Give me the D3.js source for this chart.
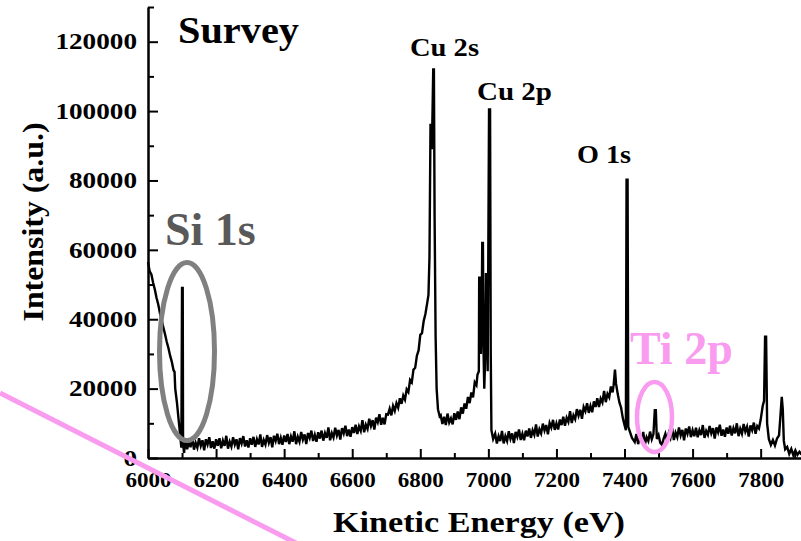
<!DOCTYPE html>
<html>
  <head>
    <meta charset="utf-8">
    <title>Survey</title>
    <script src="https://d3js.org/d3.v7.min.js"></script>
    <style>
      body { margin: 0; background: #fff; }
      svg { display: block; }
      svg text { font-family: "Liberation Serif", "Times New Roman", serif; font-weight: bold; }
      .axis path, .axis line { stroke: #000; stroke-width: 2; }
      .axis text { fill: #000; }
    </style>
  </head>
  <body>
    <svg width="801" height="541"></svg>

    <script>
      // spectrum, [kinetic energy (eV), intensity (a.u.)]
      const siRegion = [[6000,56500],[6005,53800],[6010,52900],[6015,50500],[6020,48600],[6025,46200],[6030,44300],
        [6035,41800],[6040,39800],[6045,37700],[6050,35700],[6055,33500],[6060,31700],[6065,29500],[6070,27700],
        [6075,25300],[6078,24800],[6080,20000],[6085,16000],[6090,11000],[6095,6000],[6098,3000],[6100,49000],
        [6102,49000],[6103,4000],[6106,1500]];
      const lowBaseline = [[6110,5400],[6115,2500],[6120,4600],[6125,3100],[6130,6100],[6135,2400],[6140,4400],
        [6145,3000],[6150,5700],[6155,3500],[6160,5100],[6165,2200],[6170,5400],[6175,3900],[6180,6000],[6185,2900],
        [6190,4800],[6195,2700],[6200,5400],[6205,3500],[6210,5700],[6215,2800],[6220,5000],[6225,3500],[6230,6400],
        [6235,2700],[6240,4700],[6245,3300],[6250,6000],[6255,3900],[6260,5400],[6265,2500],[6270,5700],[6275,4200],
        [6280,6300],[6285,3300],[6290,5100],[6295,3000],[6300,5700],[6305,3800],[6310,6100],[6315,3200],[6320,5400],
        [6325,3900],[6330,6800],[6335,3200],[6340,5200],[6345,3900],[6350,6600],[6355,4400],[6360,6000],[6365,3100],
        [6370,6400],[6375,4900],[6380,7000],[6385,4000],[6390,5800],[6395,3800],[6400,6500],[6405,4600],[6410,6900],
        [6415,4000],[6420,6200],[6425,4700],[6430,7700],[6435,4000],[6440,6100],[6445,4700],[6450,7500],[6455,5300],
        [6460,6800],[6465,4000],[6470,7200],[6475,5800],[6480,7900],[6485,4900],[6490,6700],[6495,4700],[6500,7400],
        [6505,5600],[6510,7900],[6515,5000],[6520,7200],[6525,5800],[6530,8800],[6535,5100],[6540,7200],[6545,5900],
        [6550,8700],[6555,6500],[6560,8100],[6565,5300],[6570,8600],[6575,7100],[6580,9300],[6585,6300],[6590,8200],
        [6595,6100],[6600,8900],[6605,7200],[6610,9600],[6615,6900],[6620,9100],[6625,7800],[6630,10900],[6635,7400],
        [6640,9600],[6645,8400],[6650,11300],[6655,9200],[6660,10900],[6665,8200],[6670,11600],[6675,10300],
        [6680,12600],[6685,9600],[6690,11600],[6695,9700],[6700,12600],[6705,12500],[6710,14200],[6715,12300],
        [6720,15000],[6725,13600],[6730,15800],[6735,14500],[6740,17200],[6745,15600],[6750,18000],[6755,16800],
        [6760,19800],[6765,19000],[6770,22500],[6775,21800],[6780,25500],[6785,26000],[6790,29500],[6795,31000],
        [6800,35500],[6805,36000],[6810,39500],[6815,41500],[6820,44500]];
      const cu2sRegion = [[6824,47000],[6827,58000],[6830,96000],[6832,96000],[6834,89000],[6836,100000],
        [6838,112000],[6840,112000],[6842,70000],[6845,35000],[6848,20000],[6852,14000],[6857,12000],[6860,12300],
        [6865,9800],[6870,11900],[6875,9500],[6880,12800],[6885,10200],[6890,11400],[6895,9700],[6900,12900],
        [6905,11000],[6910,13400],[6915,11200],[6920,14600],[6925,12800],[6930,15700],[6935,14200],[6940,17600],
        [6945,15800],[6950,18900],[6955,17500],[6960,21800],[6965,21000],[6968,24000]];
      const cu2pRegion = [[6972,25000],[6973,52000],[6976,52000],[6978,30000],[6980,36000],[6982,62000],
        [6984,62000],[6986,30000],[6988,20000],[6991,30000],[6993,53000],[6996,53000],[6998,25000],[7002,100500],
        [7005,100500],[7007,30000],[7009,8000],[7014,5500]];
      const midBaseline = [[7020,7000],[7025,4200],[7030,6300],[7035,4900],[7040,7800],[7045,4200],[7050,6300],
        [7055,4900],[7060,7700],[7065,5500],[7070,7100],[7075,4300],[7080,7500],[7085,6100],[7090,8200],[7095,5200],
        [7100,7000],[7105,5100],[7110,7900],[7115,6200],[7120,8500],[7125,5800],[7130,8000],[7135,6700],[7140,9700],
        [7145,6200],[7150,8300],[7155,7100],[7160,9900],[7165,7900],[7170,9500],[7175,6800],[7180,10100],[7185,8800],
        [7190,11000],[7195,8100],[7200,10000],[7205,8200],[7210,11100],[7215,9500],[7220,11900],[7225,9300],
        [7230,11600],[7235,10400],[7240,13500],[7245,10100],[7250,12300],[7255,11200],[7260,14100],[7265,12200],
        [7270,13900],[7275,11300],[7280,14700],[7285,13500],[7290,15800],[7295,13000],[7300,15000],[7305,13200],
        [7310,16300],[7315,14700],[7320,17200],[7325,14700],[7330,17100],[7335,16000],[7340,19300],[7345,16100],
        [7350,18500],[7355,17500],[7360,20600],[7365,18900],[7368,21000],[7372,25500],[7375,21500],[7380,18500],
        [7385,16000],[7390,14500],[7395,11500],[7400,9500]];
      const o1sRegion = [[7404,8000],[7406,80200],[7409,80200],[7411,9000],[7416,7500],[7422,5800],[7430,4600]];
      const highBaseline = [[7435,6900],[7440,4000],[7445,6100],[7450,4600],[7455,7500],[7460,3900],[7465,6000],
        [7470,4900],[7475,7600],[7480,5400],[7485,6900],[7489,13800],[7492,13800],[7495,5500],[7500,6600],
        [7505,4400],[7510,3800],[7515,5600],[7520,7000],[7525,5000],[7530,7200],[7535,5800],[7540,8600],[7545,5200],
        [7550,7300],[7555,6000],[7560,8800],[7565,6500],[7570,8100],[7575,5100],[7580,8500],[7585,7000],[7590,9100],
        [7595,6000],[7600,8000],[7605,6300],[7610,8700],[7615,6000],[7620,8000],[7625,6600],[7630,9500],[7635,5800],
        [7640,7800],[7645,6700],[7650,9200],[7655,7100],[7660,8600],[7665,5600],[7670,8800],[7675,7400],[7680,9600],
        [7685,6400],[7690,8200],[7695,6100],[7700,8800],[7705,7000],[7710,9300],[7715,6500],[7720,8600],[7725,7100],
        [7730,10000],[7735,6300],[7740,8400],[7745,7000],[7750,9800],[7755,7600],[7760,9000],[7765,6200],[7770,9400],
        [7775,8000],[7780,10200],[7785,7000],[7790,9200],[7795,8500],[7800,11000],[7806,15000],[7810,16500],
        [7813,35000],[7816,35000],[7819,10000],[7824,5500],[7830,3800],[7836,5200],[7842,3600],[7848,5600],
        [7854,6500],[7858,12000],[7862,17600],[7865,14000],[7868,5000],[7872,2500],[7878,3200],[7884,1200],
        [7890,2600],[7896,800],[7902,2200],[7908,900],[7914,1800],[7920,1000]];

      const xMajorTicks = [6000, 6200, 6400, 6600, 6800, 7000, 7200, 7400, 7600, 7800];
      const xMinorTicks = [6100, 6300, 6500, 6700, 6900, 7100, 7300, 7500, 7700, 7900];
      const yMajorTicks = [0, 20000, 40000, 60000, 80000, 100000, 120000];
      const yMinorTicks = [10000, 30000, 50000, 70000, 90000, 110000, 130000];

      const peakLabels = [
        { text: "Cu 2s", x: 410, y: 56, len: 69 },
        { text: "Cu 2p", x: 477, y: 100, len: 75 },
        { text: "O 1s", x: 577, y: 163, len: 54 }
      ];

      const spectrum = [].concat(siRegion, lowBaseline, cu2sRegion, cu2pRegion, midBaseline, o1sRegion, highBaseline);

      const svg = d3.select("svg");

      const x = d3.scaleLinear().domain([6000, 7920]).range([148, 801.5]);
      const y = d3.scaleLinear().domain([0, 130000]).range([458, 7]);

      // spectrum line
      const line = d3.line()
        .x(function(d) { return x(d[0]); })
        .y(function(d) { return y(d[1]); });

      svg.append("path")
        .datum(spectrum)
        .attr("fill", "none")
        .attr("stroke", "#000")
        .attr("stroke-width", 2.4)
        .attr("d", line);

      // axes, ticks pointing inward
      svg.append("g")
        .attr("class", "axis")
        .attr("transform", "translate(0,458)")
        .call(d3.axisBottom(x).tickValues(xMinorTicks).tickSize(-5).tickSizeOuter(0).tickFormat(""));

      const xAxis = svg.append("g")
        .attr("class", "axis")
        .attr("transform", "translate(0,458)")
        .call(d3.axisBottom(x).tickValues(xMajorTicks).tickSize(-9).tickSizeOuter(0).tickPadding(14).tickFormat(d3.format("d")));
      xAxis.selectAll("text")
        .style("font-size", "21px")
        .attr("textLength", function(d) { return String(d).length * 11.5; })
        .attr("lengthAdjust", "spacingAndGlyphs");

      svg.append("g")
        .attr("class", "axis")
        .attr("transform", "translate(148,0)")
        .call(d3.axisLeft(y).tickValues(yMinorTicks).tickSize(-6).tickSizeOuter(0).tickFormat(""));

      const yAxis = svg.append("g")
        .attr("class", "axis")
        .attr("transform", "translate(148,0)")
        .call(d3.axisLeft(y).tickValues(yMajorTicks).tickSize(-10).tickSizeOuter(0).tickPadding(11).tickFormat(d3.format("d")));
      yAxis.selectAll("text")
        .style("font-size", "22.5px")
        .attr("textLength", function(d) { return String(d).length * 13.6; })
        .attr("lengthAdjust", "spacingAndGlyphs");

      // axis titles
      svg.append("text")
        .attr("x", 479)
        .attr("y", 532)
        .attr("text-anchor", "middle")
        .style("font-size", "30px")
        .attr("textLength", 292)
        .attr("lengthAdjust", "spacingAndGlyphs")
        .text("Kinetic Energy (eV)");

      svg.append("text")
        .attr("transform", "translate(43,222) rotate(-90)")
        .attr("text-anchor", "middle")
        .style("font-size", "30px")
        .attr("textLength", 199)
        .attr("lengthAdjust", "spacingAndGlyphs")
        .text("Intensity (a.u.)");

      svg.append("text")
        .attr("x", 178)
        .attr("y", 43)
        .style("font-size", "37px")
        .attr("textLength", 121)
        .attr("lengthAdjust", "spacingAndGlyphs")
        .text("Survey");

      svg.selectAll(".peak")
        .data(peakLabels)
        .enter().append("text")
          .attr("class", "peak")
          .attr("x", function(d) { return d.x; })
          .attr("y", function(d) { return d.y; })
          .style("font-size", "25px")
          .attr("textLength", function(d) { return d.len; })
          .attr("lengthAdjust", "spacingAndGlyphs")
          .text(function(d) { return d.text; });

      // annotations
      svg.append("text")
        .attr("x", 165)
        .attr("y", 245)
        .attr("fill", "#595959")
        .style("font-size", "46px")
        .text("Si 1s");

      svg.append("ellipse")
        .attr("cx", 187)
        .attr("cy", 351.5)
        .attr("rx", 27.5)
        .attr("ry", 89)
        .attr("fill", "none")
        .attr("stroke", "#808080")
        .attr("stroke-width", 5);

      svg.append("text")
        .attr("x", 630)
        .attr("y", 364)
        .attr("fill", "#f99cf0")
        .style("font-size", "46px")
        .text("Ti 2p");

      svg.append("ellipse")
        .attr("cx", 654.5)
        .attr("cy", 417)
        .attr("rx", 17.5)
        .attr("ry", 35)
        .attr("fill", "none")
        .attr("stroke", "#f99cf0")
        .attr("stroke-width", 4.5);

      svg.append("line")
        .attr("x1", 0)
        .attr("y1", 393)
        .attr("x2", 300)
        .attr("y2", 545)
        .attr("stroke", "#f99cf0")
        .attr("stroke-width", 5);
    </script>
  </body>
</html>
